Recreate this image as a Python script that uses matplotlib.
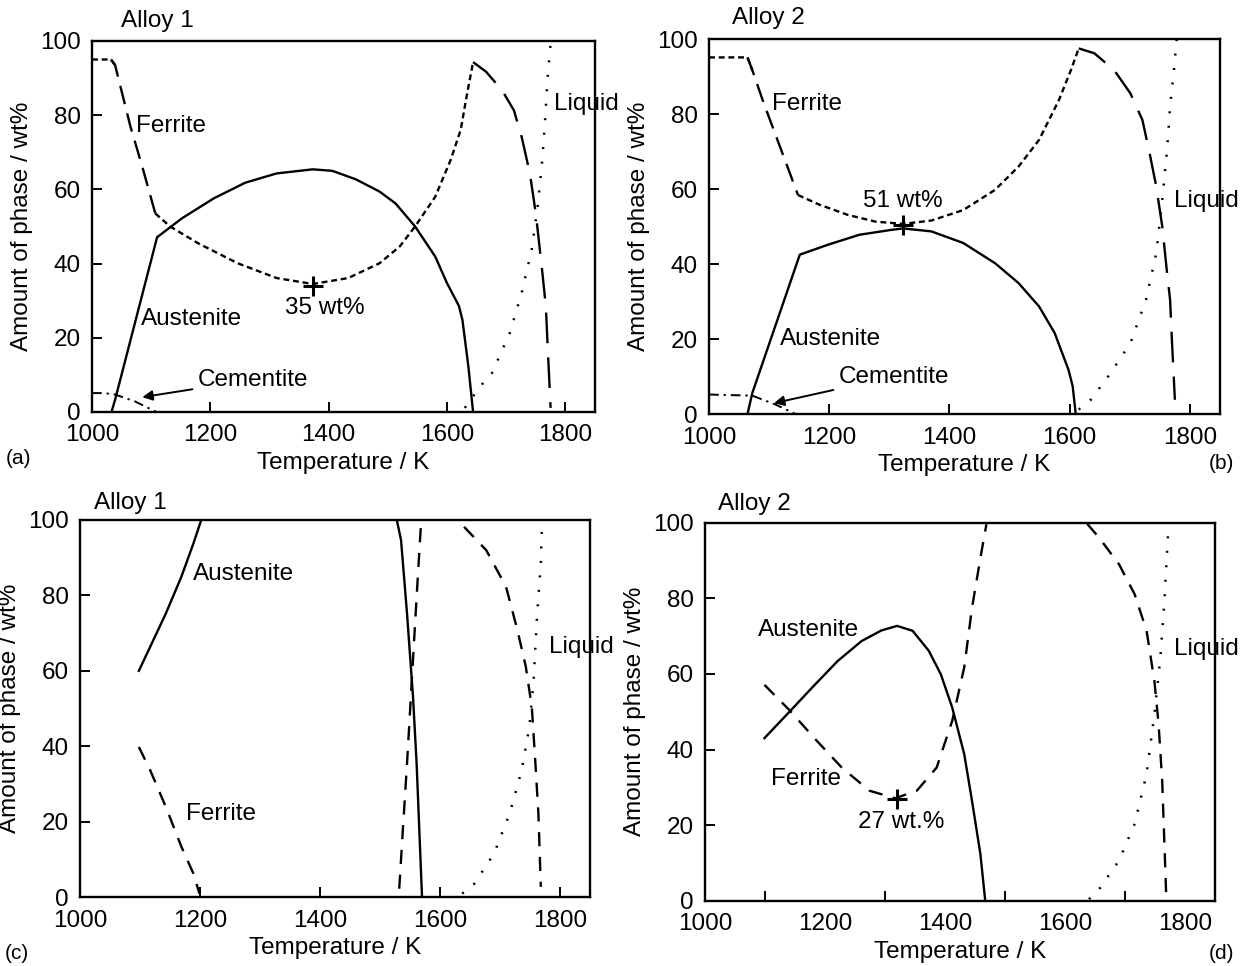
import matplotlib
matplotlib.use("Agg")
import matplotlib.pyplot as plt

plt.rcParams['font.family'] = ['Liberation Sans', 'DejaVu Sans']

# ---------------- data: panel (a) Alloy 1 ----------------
a_fer_T = [1000, 1032, 1039, 1065, 1085, 1107, 1132, 1179, 1246, 1312, 1373, 1433, 1486, 1520,
           1546, 1580, 1606, 1623, 1633, 1644, 1666, 1693, 1713, 1726, 1740, 1750, 1760, 1767, 1770, 1775]
a_fer_v = [95.0, 95.0, 93.5, 76.9, 66.1, 53.5, 50.0, 45.5, 40.1, 36.1, 34.5, 36.1, 40.1, 44.6,
           50.0, 58.0, 67.9, 76.0, 85.0, 94.3, 91.7, 86.7, 81.3, 74.2, 64.3, 53.5, 39.2, 28.4, 17.7, 1.1]
a_aus_T = [1033, 1039, 1110, 1152, 1206, 1259, 1312, 1373, 1406, 1446, 1486, 1513, 1546, 1580,
           1600, 1620, 1626, 1636, 1644]
a_aus_v = [0.0, 3.3, 47.1, 52.2, 57.6, 61.8, 64.3, 65.4, 65.0, 62.7, 59.4, 56.2, 50.0, 41.9,
           34.7, 28.6, 24.8, 12.3, 0.0]
a_liq_T = [1630, 1656, 1676, 1706, 1726, 1743, 1753, 1760, 1765, 1770, 1775]
a_liq_v = [1.1, 6.9, 10.5, 21.3, 32.0, 43.7, 55.3, 66.1, 76.9, 90.3, 99.3]
a_cem_T = [1000, 1020, 1039, 1072, 1109]
a_cem_v = [5.1, 5.1, 4.7, 2.9, 0.0]
a_min = (1373, 34.0)

# ---------------- data: panel (b) Alloy 2 ----------------
b_fer_T = [1000, 1064, 1072, 1091, 1118, 1148, 1184, 1231, 1277, 1323, 1370, 1423, 1476, 1515,
           1549, 1582, 1602, 1615, 1641, 1674, 1701, 1721, 1734, 1744, 1754, 1762, 1767, 1770, 1775]
b_fer_v = [95.1, 95.1, 91.7, 82.9, 71.3, 58.4, 55.8, 53.1, 51.3, 50.7, 51.6, 54.4, 59.8, 66.0,
           73.1, 83.7, 91.7, 97.5, 96.2, 91.7, 85.5, 78.4, 68.7, 60.7, 50.0, 37.6, 30.5, 19.8, 3.8]
b_aus_T = [1064, 1072, 1151, 1197, 1250, 1303, 1323, 1370, 1423, 1476, 1515, 1549, 1575, 1598, 1605, 1610]
b_aus_v = [0.0, 5.6, 42.5, 45.1, 47.8, 49.1, 49.5, 48.7, 45.6, 40.2, 34.9, 28.7, 21.6, 11.8, 7.4, 0.0]
b_liq_T = [1615, 1635, 1668, 1701, 1727, 1744, 1754, 1762, 1767, 1774, 1778]
b_liq_v = [1.2, 3.8, 10.9, 18.9, 30.5, 42.9, 57.1, 70.4, 82.0, 92.6, 100.0]
b_cem_T = [1000, 1072, 1111, 1144]
b_cem_v = [5.2, 4.9, 2.5, 0.0]
b_min = (1323, 50.5)

# ---------------- data: panel (c) Alloy 1 ----------------
c_aus1_T = [1098, 1117, 1143, 1169, 1189, 1202]
c_aus1_v = [60.0, 66.4, 75.2, 85.0, 93.8, 100.0]
c_aus2_T = [1528, 1535, 1545, 1555, 1561, 1570]
c_aus2_v = [100.0, 94.7, 75.2, 53.1, 35.4, 0.0]
c_fer1_T = [1098, 1117, 1143, 1169, 1189, 1199]
c_fer1_v = [39.8, 33.6, 23.9, 13.3, 6.2, 0.9]
c_fer2_T = [1532, 1538, 1545, 1553, 1561, 1568]
c_fer2_v = [2.2, 17.7, 35.4, 57.5, 79.6, 98.2]
c_fer3_T = [1640, 1677, 1710, 1729, 1743, 1753, 1759, 1764, 1768]
c_fer3_v = [98.2, 92.0, 82.3, 70.8, 61.1, 50.4, 35.4, 22.1, 2.7]
c_liq_T = [1637, 1657, 1690, 1716, 1736, 1749, 1756, 1762, 1768, 1770]
c_liq_v = [0.9, 3.5, 11.5, 22.1, 33.6, 45.1, 57.5, 75.2, 88.5, 99.1]

# ---------------- data: panel (d) Alloy 2 ----------------
d_aus_T = [1099, 1142, 1181, 1221, 1261, 1294, 1320, 1346, 1373, 1393, 1412, 1432, 1445, 1459, 1467]
d_aus_v = [43.0, 50.2, 56.8, 63.4, 68.7, 71.5, 72.7, 71.4, 66.1, 59.9, 51.1, 38.8, 26.4, 12.3, 0.0]
d_fer1_T = [1099, 1142, 1181, 1228, 1274, 1317, 1353, 1386, 1412, 1432, 1445, 1459, 1469]
d_fer1_v = [57.1, 50.2, 43.2, 35.2, 29.1, 27.1, 29.1, 35.2, 47.6, 61.7, 77.5, 90.7, 99.6]
d_fer2_T = [1637, 1657, 1690, 1716, 1736, 1749, 1756, 1762, 1769]
d_fer2_v = [99.7, 96.0, 89.0, 81.1, 71.4, 58.1, 46.7, 31.7, 0.0]
d_liq_T = [1640, 1657, 1690, 1716, 1736, 1749, 1759, 1766, 1772]
d_liq_v = [0.4, 3.1, 10.6, 20.3, 33.5, 49.3, 64.3, 80.2, 97.8]
d_min = (1320, 27.0)

x_ticks = [1000, 1200, 1400, 1600, 1800]
y_ticks = [0, 20, 40, 60, 80, 100]

# ---------------- styles ----------------
FS = 17.5
LW = 1.7
SHORT = (0, (2.5, 1.6))
LONG = (0, (8, 4))
LONGER = (0, (13, 6))
MED = (0, (6, 4.5))
DOT = (0, (0.8, 5))
DASHDOT = (0, (5, 2.5, 1.2, 2.5))

fig = plt.figure(figsize=(12.45, 9.66), dpi=100)

positions = {
    'a': [0.0739, 0.5735, 0.4040, 0.3841],
    'b': [0.5695, 0.5714, 0.4104, 0.3882],
    'c': [0.0643, 0.0714, 0.4096, 0.3903],
    'd': [0.5663, 0.0676, 0.4096, 0.3913],
}


def setup(ax, minor_odd=False):
    ax.set_xlim(1000, 1850)
    ax.set_ylim(0, 100)
    ax.set_xticks(x_ticks)
    ax.set_yticks(y_ticks)
    for s in ax.spines.values():
        s.set_linewidth(1.7)
    ax.tick_params(axis='both', direction='in', length=7, width=1.4, labelsize=FS)
    ax.tick_params(axis='x', pad=9)
    ax.tick_params(axis='y', pad=8)
    if minor_odd:
        ax.tick_params(axis='x', length=0)
        ax.set_xticks([1100, 1300, 1500, 1700], minor=True)
        ax.tick_params(axis='x', which='minor', direction='in', length=7, width=1.4)
    ax.set_xlabel('Temperature / K', fontsize=FS, labelpad=4)
    ax.set_ylabel('Amount of phase / wt%', fontsize=FS, labelpad=5)


def seg(ax, T, v, i0, i1, ls, lw=LW):
    ax.plot(T[i0:i1], v[i0:i1], color='black', lw=lw, linestyle=ls, dash_capstyle='butt')


# ----- (a) -----
ax = fig.add_axes(positions['a'])
setup(ax)
seg(ax, a_fer_T, a_fer_v, 0, 3, SHORT)
seg(ax, a_fer_T, a_fer_v, 1, 6, LONG)
seg(ax, a_fer_T, a_fer_v, 5, 20, SHORT)
seg(ax, a_fer_T, a_fer_v, 19, len(a_fer_T), LONGER)
ax.plot(a_aus_T, a_aus_v, color='black', lw=LW)
ax.plot(a_liq_T, a_liq_v, color='black', lw=1.8, linestyle=DOT)
ax.plot(a_cem_T, a_cem_v, color='black', lw=1.4, linestyle=DASHDOT)
ax.plot(*a_min, marker='+', color='black', ms=14, mew=2.2)
ax.text(1075, 77, 'Ferrite', fontsize=FS, va='center')
ax.text(1082, 25, 'Austenite', fontsize=FS, va='center')
ax.text(1393, 28, '35 wt%', fontsize=FS, va='center', ha='center')
ax.text(1780, 83, 'Liquid', fontsize=FS, va='center')
ax.annotate('Cementite', xy=(1085, 4), xytext=(1179, 8.7), fontsize=FS, va='center',
            arrowprops=dict(arrowstyle='-|>', color='black', lw=1.4, mutation_scale=15,
                            shrinkA=2, shrinkB=0))
ax.text(1049, 105.5, 'Alloy 1', fontsize=FS, va='center', clip_on=False)
fig.text(0.005, 0.525, '(a)', fontsize=FS - 2.5, va='center')

# ----- (b) -----
ax = fig.add_axes(positions['b'])
setup(ax)
seg(ax, b_fer_T, b_fer_v, 0, 3, SHORT)
seg(ax, b_fer_T, b_fer_v, 1, 6, LONG)
seg(ax, b_fer_T, b_fer_v, 5, 18, SHORT)
seg(ax, b_fer_T, b_fer_v, 17, len(b_fer_T), LONGER)
ax.plot(b_aus_T, b_aus_v, color='black', lw=LW)
ax.plot(b_liq_T, b_liq_v, color='black', lw=1.8, linestyle=DOT)
ax.plot(b_cem_T, b_cem_v, color='black', lw=1.4, linestyle=DASHDOT)
ax.plot(*b_min, marker='+', color='black', ms=14, mew=2.2)
ax.text(1105, 82.7, 'Ferrite', fontsize=FS, va='center')
ax.text(1118, 20, 'Austenite', fontsize=FS, va='center')
ax.text(1323, 56.7, '51 wt%', fontsize=FS, va='center', ha='center')
ax.text(1774, 56.7, 'Liquid', fontsize=FS, va='center')
ax.annotate('Cementite', xy=(1108, 2.9), xytext=(1216, 10), fontsize=FS, va='center',
            arrowprops=dict(arrowstyle='-|>', color='black', lw=1.4, mutation_scale=15,
                            shrinkA=2, shrinkB=0))
ax.text(1038, 105.5, 'Alloy 2', fontsize=FS, va='center', clip_on=False)
fig.text(0.971, 0.52, '(b)', fontsize=FS - 2.5, va='center')

# ----- (c) -----
ax = fig.add_axes(positions['c'])
setup(ax)
ax.plot(c_aus1_T, c_aus1_v, color='black', lw=LW)
ax.plot(c_aus2_T, c_aus2_v, color='black', lw=LW)
ax.plot(c_fer1_T, c_fer1_v, color='black', lw=LW, linestyle=MED)
ax.plot(c_fer2_T, c_fer2_v, color='black', lw=LW, linestyle=MED)
ax.plot(c_fer3_T, c_fer3_v, color='black', lw=LW, linestyle=MED)
ax.plot(c_liq_T, c_liq_v, color='black', lw=1.8, linestyle=DOT)
ax.text(1188, 85.8, 'Austenite', fontsize=FS, va='center')
ax.text(1177, 22, 'Ferrite', fontsize=FS, va='center')
ax.text(1782, 66.4, 'Liquid', fontsize=FS, va='center')
ax.text(1024, 104.5, 'Alloy 1', fontsize=FS, va='center', clip_on=False)
fig.text(0.004, 0.013, '(c)', fontsize=FS - 2.5, va='center')

# ----- (d) -----
ax = fig.add_axes(positions['d'])
setup(ax, minor_odd=True)
ax.plot(d_aus_T, d_aus_v, color='black', lw=LW)
ax.plot(d_fer1_T, d_fer1_v, color='black', lw=LW, linestyle=MED)
ax.plot(d_fer2_T, d_fer2_v, color='black', lw=LW, linestyle=MED)
ax.plot(d_liq_T, d_liq_v, color='black', lw=1.8, linestyle=DOT)
ax.plot(*d_min, marker='+', color='black', ms=14, mew=2.2)
ax.text(1089, 71.5, 'Austenite', fontsize=FS, va='center')
ax.text(1110, 32.2, 'Ferrite', fontsize=FS, va='center')
ax.text(1327, 20.7, '27 wt.%', fontsize=FS, va='center', ha='center')
ax.text(1782, 66.5, 'Liquid', fontsize=FS, va='center')
ax.text(1021, 105, 'Alloy 2', fontsize=FS, va='center', clip_on=False)
fig.text(0.971, 0.013, '(d)', fontsize=FS - 2.5, va='center')

fig.savefig('out.png', dpi=100)
